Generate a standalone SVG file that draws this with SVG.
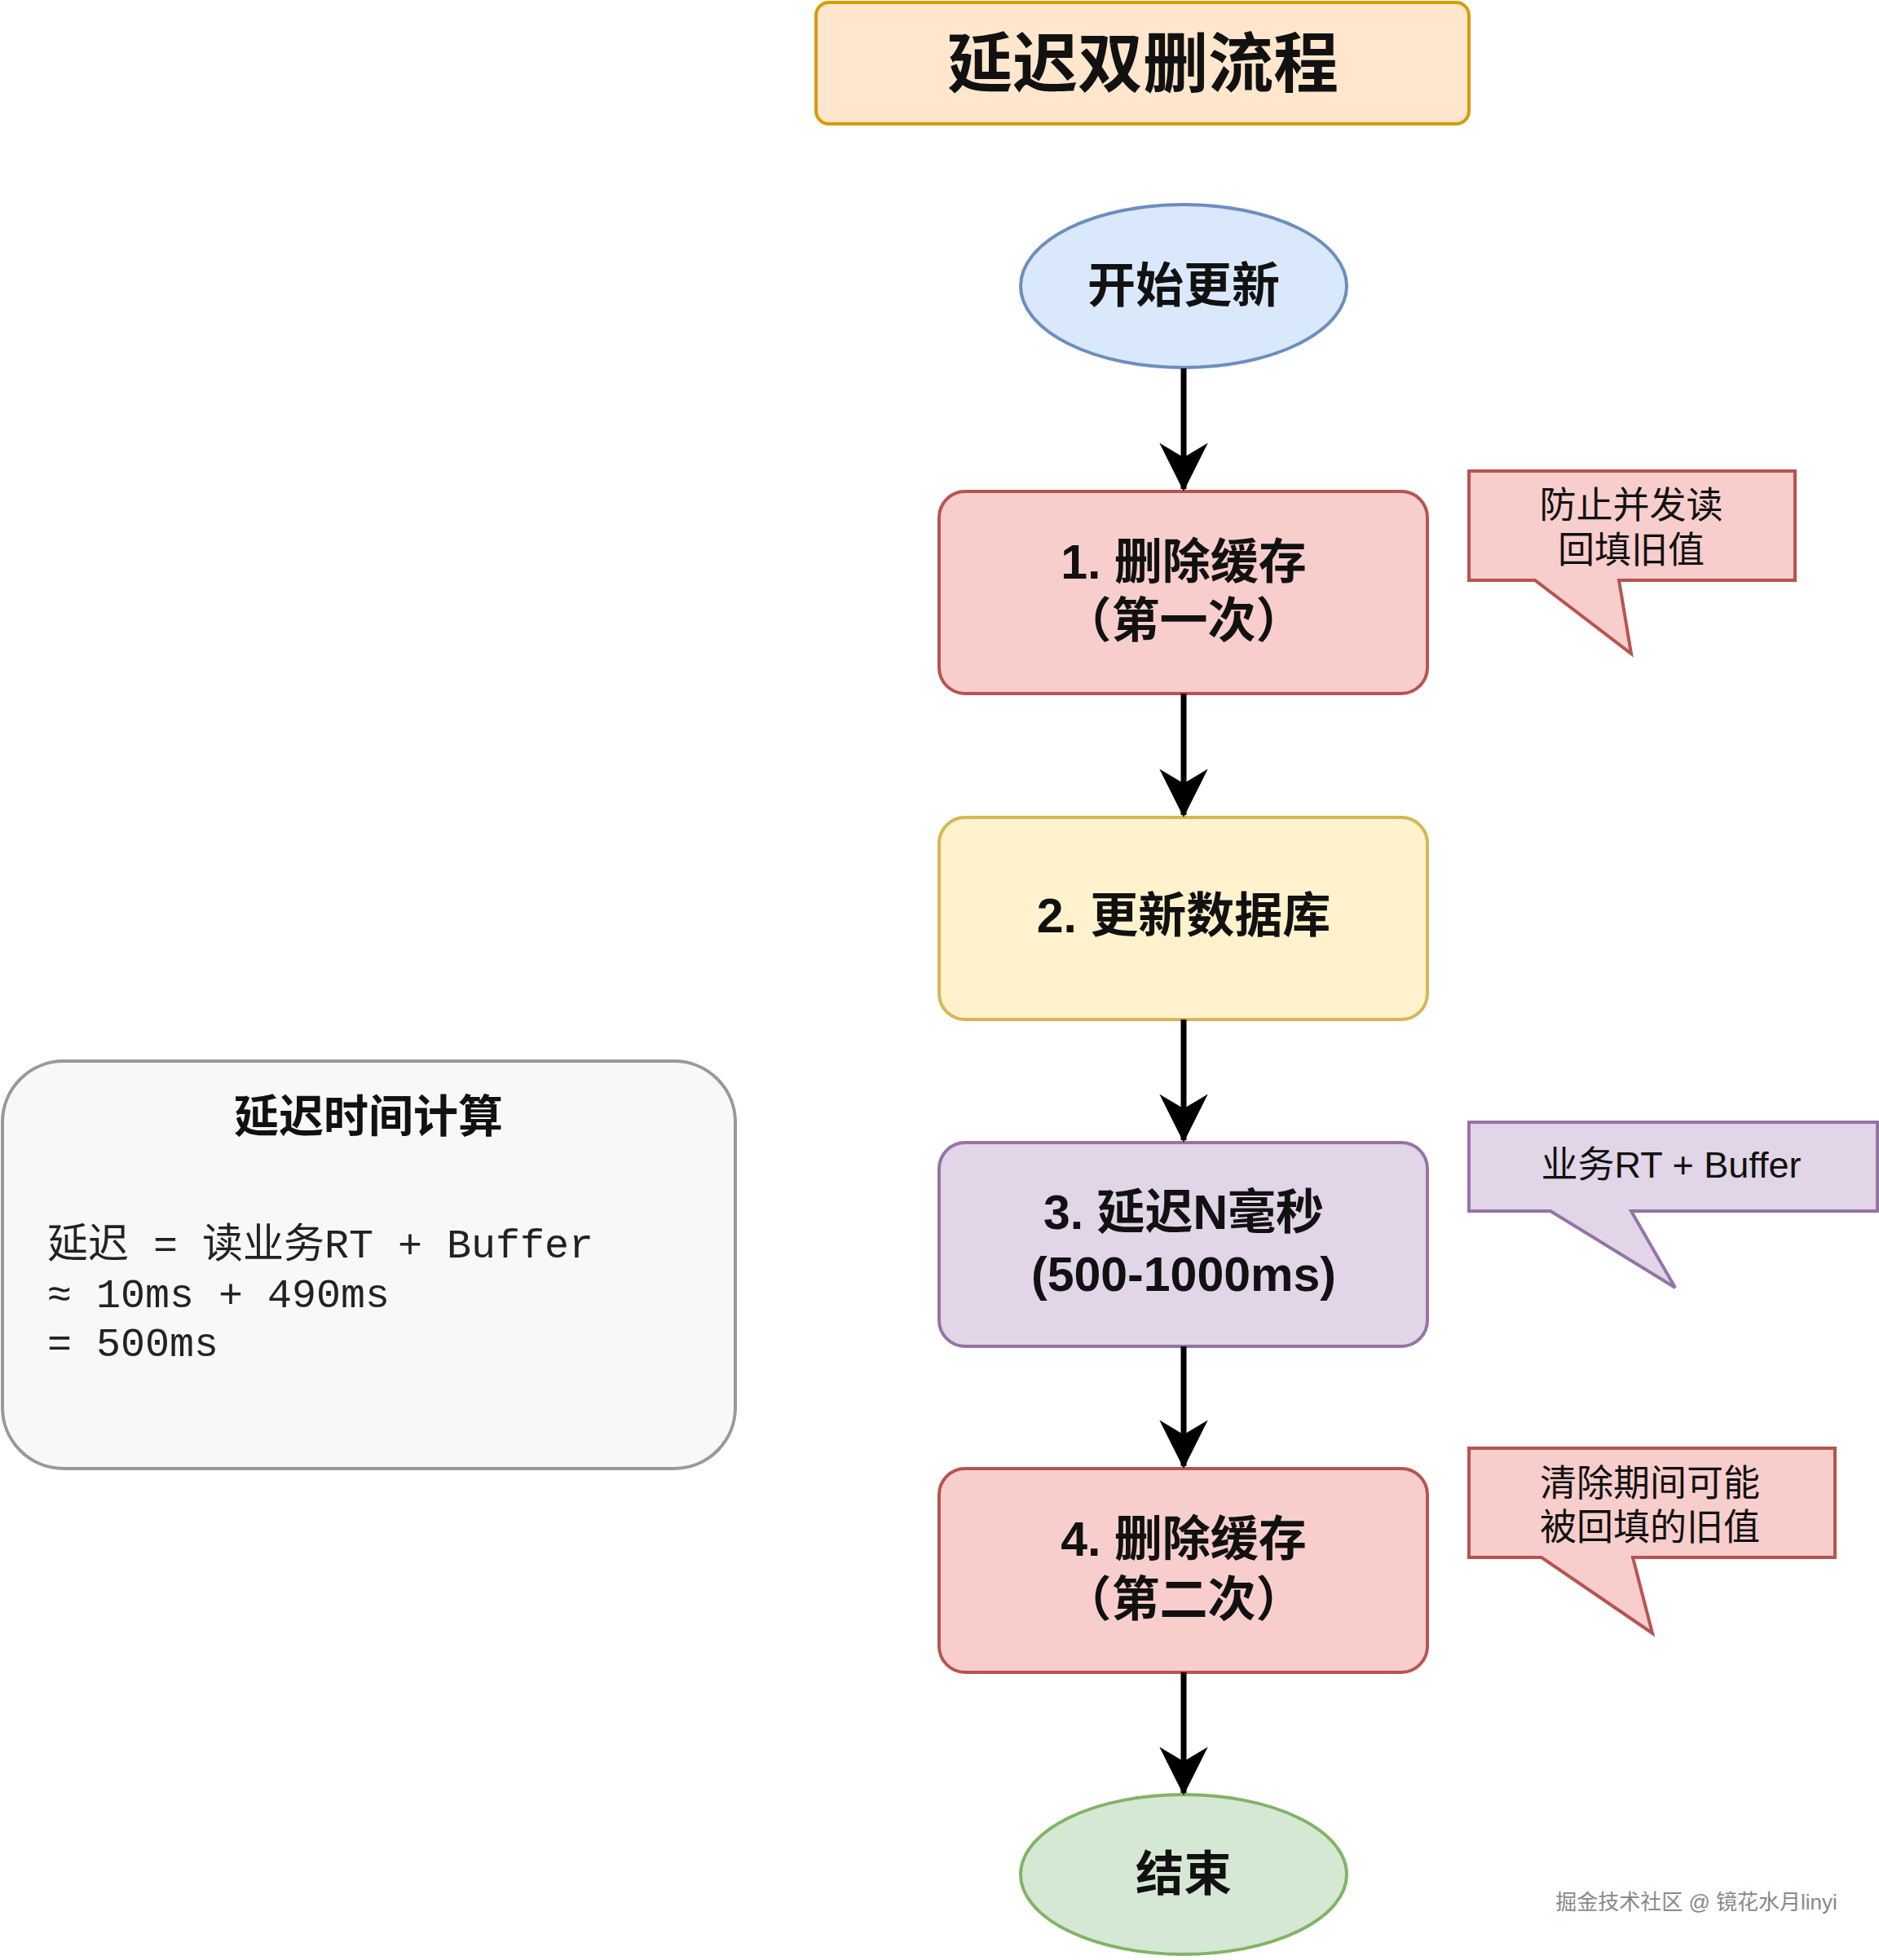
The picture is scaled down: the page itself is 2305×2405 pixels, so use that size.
<svg xmlns="http://www.w3.org/2000/svg" width="2305" height="2405" viewBox="0 0 2305 2405">
<defs>
<style>
text{font-family:"Liberation Sans","Noto Sans CJK SC",sans-serif;text-anchor:middle;dominant-baseline:central;fill:#111}
.b{font-weight:bold;font-size:59px}
.c{font-size:45px}
.m{font-family:"Liberation Mono","Noto Sans CJK SC",monospace;font-size:50px;text-anchor:start;white-space:pre;fill:#222}
.n{stroke-width:4}
</style>
<marker id="ah" viewBox="0 0 10 10" refX="9.5" refY="5" markerWidth="8.5" markerHeight="8.5" orient="auto" markerUnits="strokeWidth"><path d="M0,0L10,5L0,10L3,5Z" fill="#000"/></marker>
</defs>
<rect width="2305" height="2405" fill="#fff"/>
<g id="title"><rect x="1001" y="3" width="801" height="149" rx="16" fill="#ffe6cc" stroke="#d79b00" stroke-width="4"/><text x="1402" y="78" style="font-weight:bold;font-size:80px">延迟双删流程</text></g>
<g id="start"><ellipse cx="1452" cy="351" rx="200" ry="100" fill="#dae8fc" stroke="#6c8ebf" class="n"/><text class="b" x="1452" y="351">开始更新</text></g>
<g id="step1"><rect x="1152" y="603" width="599" height="248" rx="32" fill="#f8cecc" stroke="#b85450" class="n"/><text class="b" x="1452" y="690">1. 删除缓存</text><text class="b" x="1452" y="762">（第一次）</text></g>
<g id="step2"><rect x="1152" y="1003" width="599" height="248" rx="32" fill="#fff2cc" stroke="#d6b656" class="n"/><text class="b" x="1452" y="1124">2. 更新数据库</text></g>
<g id="step3"><rect x="1152" y="1402" width="599" height="250" rx="32" fill="#e1d5e7" stroke="#9673a6" class="n"/><text class="b" x="1452" y="1488">3. 延迟N毫秒</text><text class="b" x="1452" y="1564">(500-1000ms)</text></g>
<g id="step4"><rect x="1152" y="1802" width="599" height="250" rx="32" fill="#f8cecc" stroke="#b85450" class="n"/><text class="b" x="1452" y="1889">4. 删除缓存</text><text class="b" x="1452" y="1963">（第二次）</text></g>
<g id="end"><ellipse cx="1452" cy="2300" rx="200" ry="98" fill="#d5e8d4" stroke="#82b366" class="n"/><text class="b" x="1452" y="2300">结束</text></g>
<g id="note1"><path d="M1802,578H2202V712H1986L2001,802L1883,712H1802Z" fill="#f8cecc" stroke="#b85450" class="n"/><text class="c" x="2001" y="620">防止并发读</text><text class="c" x="2001" y="675">回填旧值</text></g>
<g id="note2"><path d="M1802,1377H2303V1486H2001L2055,1580L1902,1486H1802Z" fill="#e1d5e7" stroke="#9673a6" class="n"/><text class="c" x="2050" y="1429">业务RT + Buffer</text></g>
<g id="note3"><path d="M1802,1777H2251V1911H2003L2027,2004L1891,1911H1802Z" fill="#f8cecc" stroke="#b85450" class="n"/><text class="c" x="2024" y="1820">清除期间可能</text><text class="c" x="2024" y="1874">被回填的旧值</text></g>
<g id="calc"><rect x="3" y="1302" width="899" height="500" rx="75" fill="#f8f8f8" stroke="#999" class="n"/><text x="452" y="1370" style="font-weight:bold;font-size:55px">延迟时间计算</text>
<text class="m" x="58" y="1529">延迟 = 读业务RT + Buffer</text><text class="m" x="58" y="1590">≈ 10ms + 490ms</text><text class="m" x="58" y="1650">= 500ms</text></g>
<g id="connectors" stroke="#000" stroke-width="7" fill="none" marker-end="url(#ah)">
<path d="M1452,452V600"/><path d="M1452,851V1000"/><path d="M1452,1251V1399"/><path d="M1452,1652V1799"/><path d="M1452,2052V2200"/>
</g>
<text x="2081" y="2334" style="font-size:26px;fill:#888">掘金技术社区 @ 镜花水月linyi</text>
</svg>
